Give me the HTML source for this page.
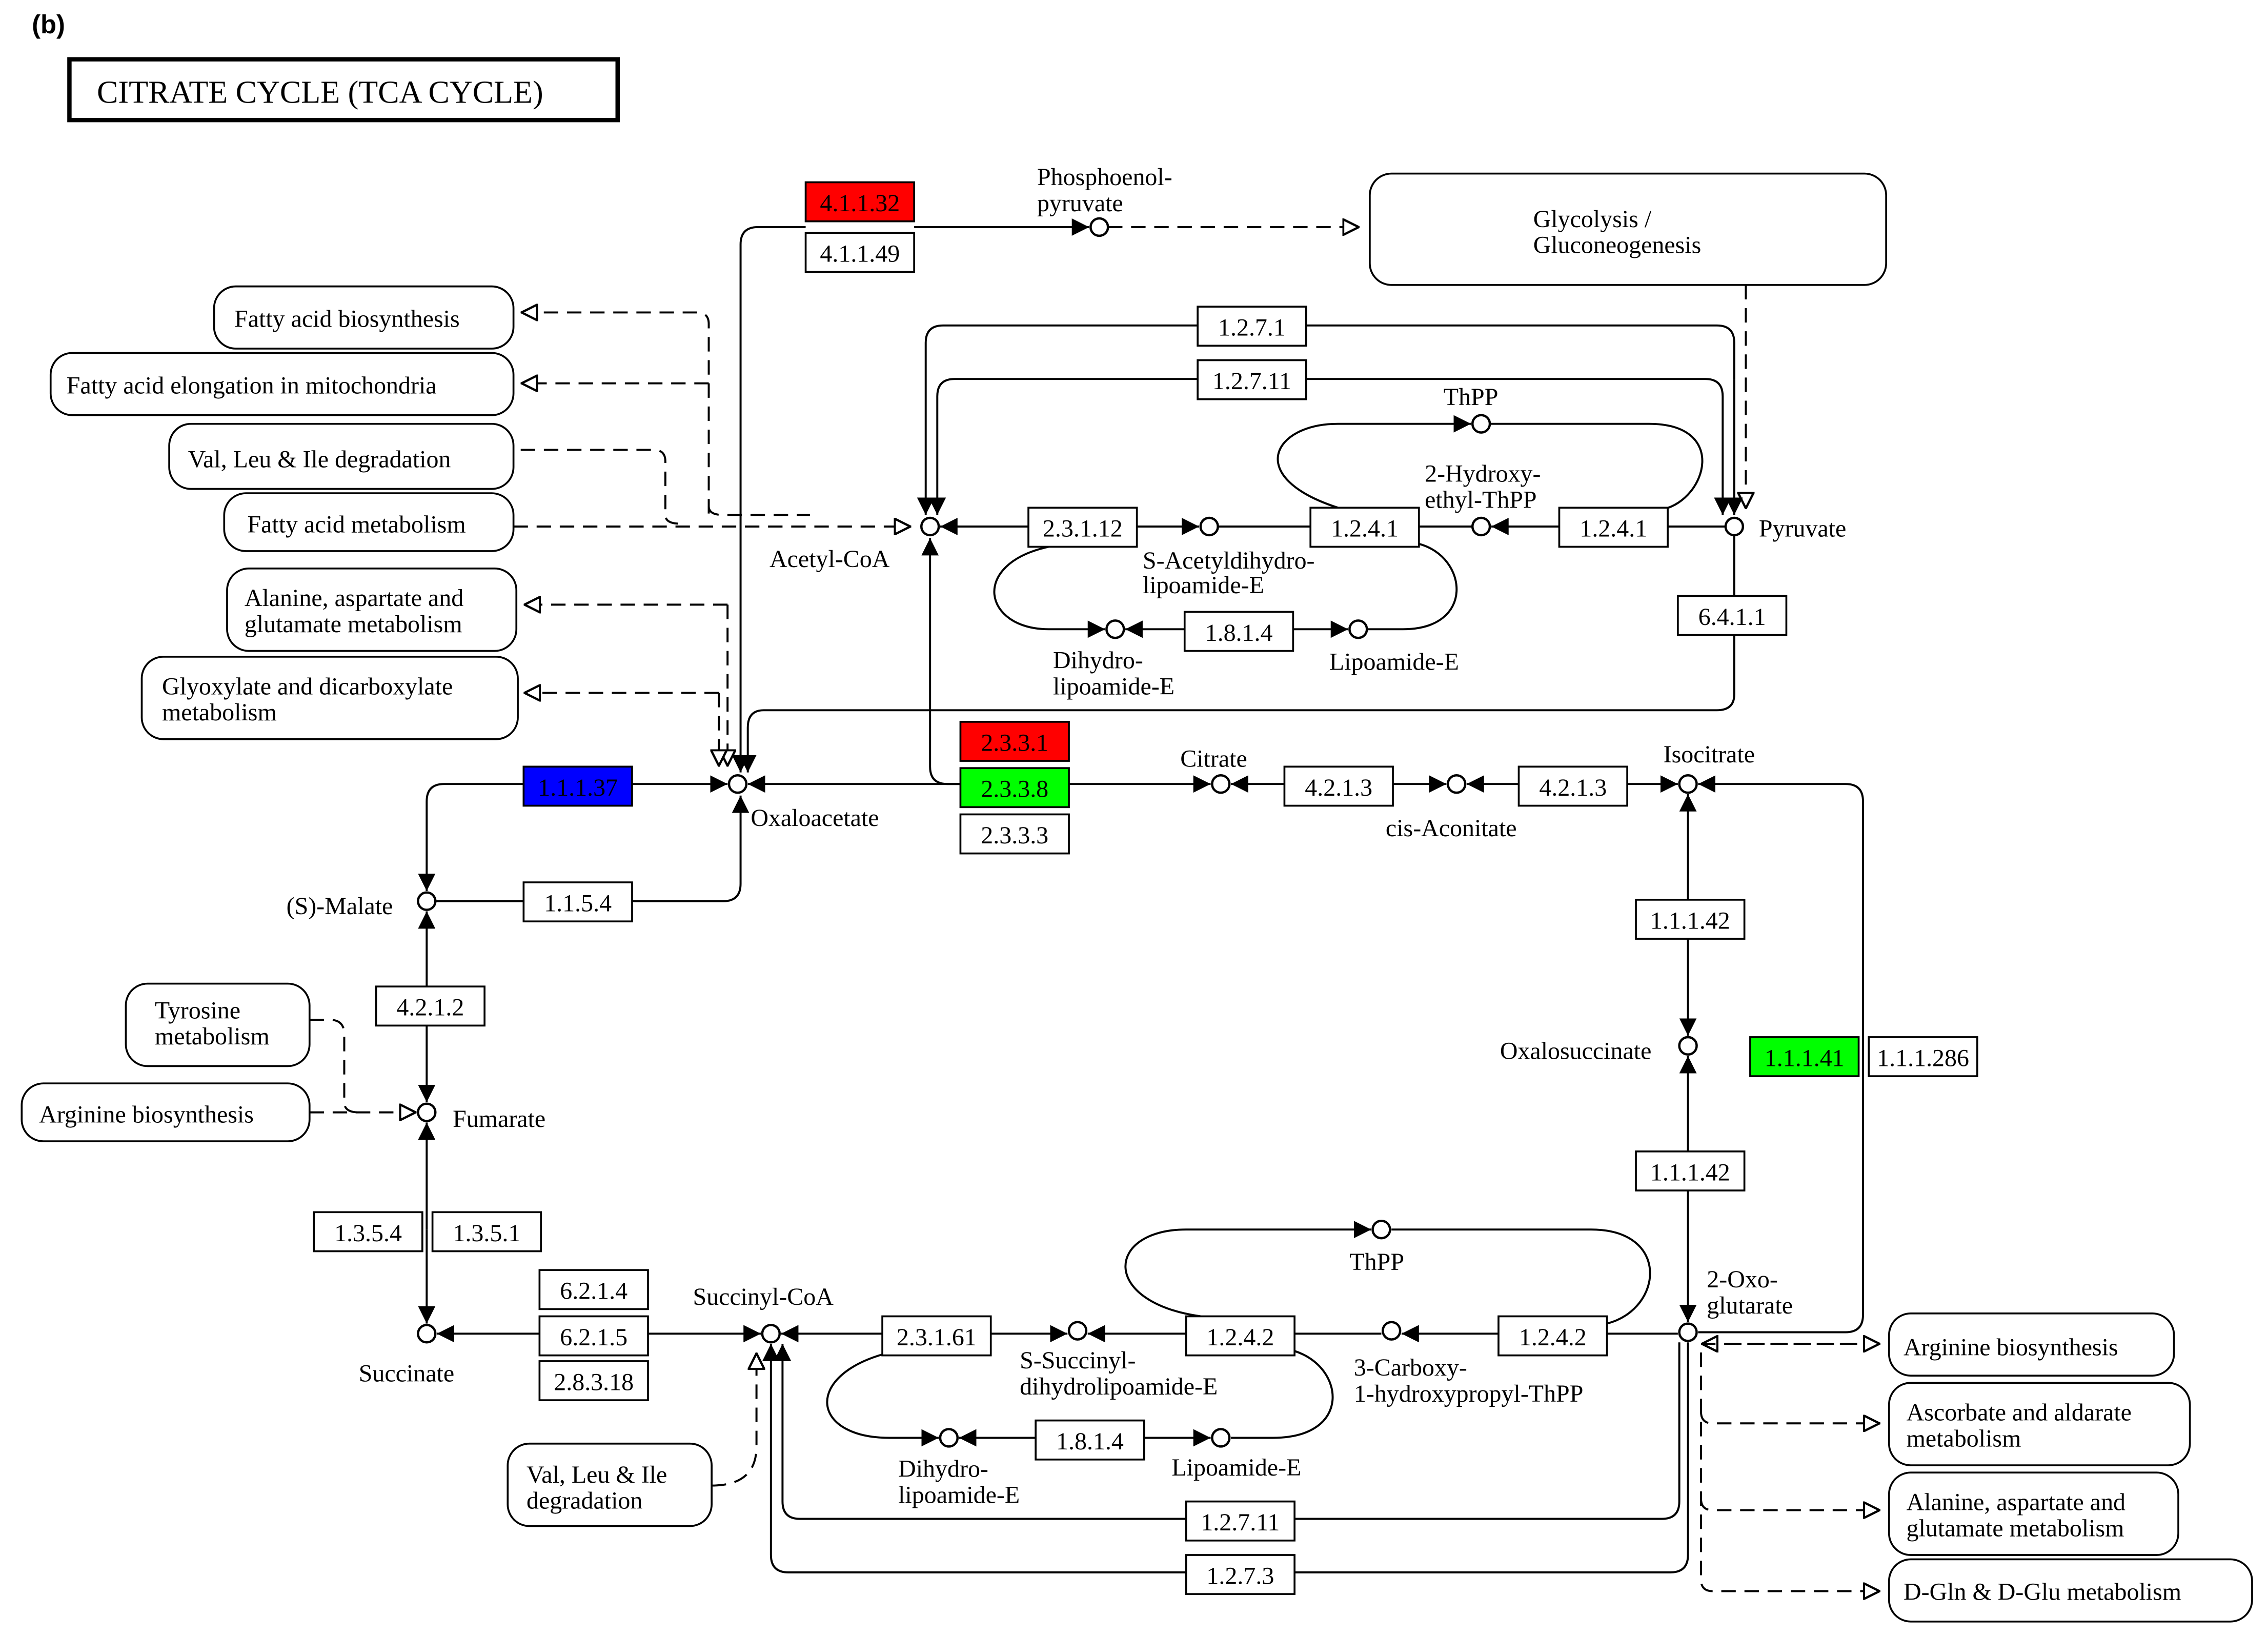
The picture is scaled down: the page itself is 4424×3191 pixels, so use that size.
<!DOCTYPE html>
<html><head><meta charset="utf-8">
<style>
html,body{margin:0;padding:0;background:#fff;width:4424px;height:3191px;overflow:hidden}
svg{display:block}
text{font-family:"Liberation Serif",serif;font-size:17px;fill:#000}
.b{fill:#fff;stroke:#000;stroke-width:1.3}
.m{fill:#fff;stroke:#000;stroke-width:1.3}
.l{fill:none;stroke:#000;stroke-width:1.4}
.d{fill:none;stroke:#000;stroke-width:1.4;stroke-dasharray:10,6}
.c{fill:#fff;stroke:#000;stroke-width:1.6}
</style></head><body>
<svg width="4424" height="3191" viewBox="0 0 1568 1131" preserveAspectRatio="none" xmlns="http://www.w3.org/2000/svg">
<defs>
<marker id="a" viewBox="0 0 10 10" refX="10" refY="5" markerWidth="12" markerHeight="12" markerUnits="userSpaceOnUse" orient="auto"><path d="M0,0 L10,5 L0,10 z" fill="#000"/></marker>
<marker id="h" viewBox="0 0 10 10" refX="10" refY="5" markerWidth="12" markerHeight="12" markerUnits="userSpaceOnUse" orient="auto"><path d="M0.5,0.5 L9.5,5 L0.5,9.5 z" fill="#fff" stroke="#000" stroke-width="1.3"/></marker>
</defs>
<rect width="1568" height="1131" fill="#fff"/>
<text x="22" y="23" style="font-family:'Liberation Sans',sans-serif;font-weight:bold;font-size:18px">(b)</text>
<rect x="48" y="41" width="379" height="42" fill="#fff" stroke="#000" stroke-width="3"/>
<text x="67" y="71" style="font-size:22px">CITRATE  CYCLE  (TCA CYCLE)</text>

<g>
<rect class="m" x="947" y="120" width="357" height="77" rx="15"/>
<rect class="m" x="148" y="198" width="207" height="43" rx="15"/>
<rect class="m" x="35" y="244" width="320" height="43" rx="15"/>
<rect class="m" x="117" y="293" width="238" height="45" rx="15"/>
<rect class="m" x="155" y="341" width="200" height="40" rx="15"/>
<rect class="m" x="157" y="393" width="200" height="57" rx="15"/>
<rect class="m" x="98" y="454" width="260" height="57" rx="15"/>
<rect class="m" x="87" y="680" width="127" height="57" rx="15"/>
<rect class="m" x="15" y="749" width="199" height="40" rx="15"/>
<rect class="m" x="351" y="998" width="141" height="57" rx="15"/>
<rect class="m" x="1306" y="908" width="197" height="43" rx="15"/>
<rect class="m" x="1306" y="956" width="208" height="57" rx="15"/>
<rect class="m" x="1306" y="1018" width="200" height="57" rx="15"/>
<rect class="m" x="1306" y="1078" width="251" height="43" rx="15"/>
</g>
<text x="1060" y="157">Glycolysis /</text><text x="1060" y="175">Gluconeogenesis</text>
<text x="162" y="226">Fatty acid biosynthesis</text>
<text x="46" y="272">Fatty acid elongation in mitochondria</text>
<text x="130" y="323">Val, Leu &amp; Ile degradation</text>
<text x="171" y="368">Fatty acid metabolism</text>
<text x="169" y="419">Alanine, aspartate and</text><text x="169" y="437">glutamate metabolism</text>
<text x="112" y="480">Glyoxylate and dicarboxylate</text><text x="112" y="498">metabolism</text>
<text x="107" y="704">Tyrosine</text><text x="107" y="722">metabolism</text>
<text x="27" y="776">Arginine biosynthesis</text>
<text x="364" y="1025">Val, Leu &amp; Ile</text><text x="364" y="1043">degradation</text>
<text x="1316" y="937">Arginine biosynthesis</text>
<text x="1318" y="982">Ascorbate and aldarate</text><text x="1318" y="1000">metabolism</text>
<text x="1318" y="1044">Alanine, aspartate and</text><text x="1318" y="1062">glutamate metabolism</text>
<text x="1316" y="1106">D-Gln &amp; D-Glu metabolism</text>

<path class="d" d="M766,157 H940" marker-end="url(#h)"/>
<path class="d" d="M1207,197 V352" marker-end="url(#h)"/>
<path class="d" d="M490,355 V224 Q490,216 482,216 H360" marker-end="url(#h)"/>
<path class="d" d="M490,265 H360" marker-end="url(#h)"/>
<path class="d" d="M490,350 Q490,356 500,356 H560"/>
<path class="d" d="M360,311 H452 Q460,311 460,319 V356 Q460,362 470,362"/>
<path class="d" d="M355,364 H630" marker-end="url(#h)"/>
<path class="d" d="M503,418 H362" marker-end="url(#h)"/>
<path class="d" d="M503,418 V530" marker-end="url(#h)"/>
<path class="d" d="M497,479 H362" marker-end="url(#h)"/>
<path class="d" d="M497,479 V530" marker-end="url(#h)"/>
<path class="d" d="M214,705 H228 Q238,705 238,715 V762 Q238,769 248,769"/>
<path class="d" d="M214,769 H288" marker-end="url(#h)"/>
<path class="d" d="M492,1027 Q523,1027 523,1000 V935" marker-end="url(#h)"/>
<path class="d" d="M1300,929 H1176" marker-end="url(#h)"/>
<path class="d" d="M1176,929 H1300" marker-end="url(#h)"/>
<path class="d" d="M1176,935 V1092 Q1176,1100 1184,1100 H1300" marker-end="url(#h)"/>
<path class="d" d="M1176,976 Q1176,984 1184,984 H1300" marker-end="url(#h)"/>
<path class="d" d="M1176,1036 Q1176,1044 1184,1044 H1300" marker-end="url(#h)"/>

<path class="l" d="M632,157 H753" marker-end="url(#a)"/>
<path class="l" d="M557,157 H524 Q512,157 512,169 V534" marker-end="url(#a)"/>
<path class="l" d="M1199,262 V356" marker-end="url(#a)"/>
<path class="l" d="M903,225 H1187 Q1199,225 1199,237 V262"/>
<path class="l" d="M828,225 H652 Q640,225 640,237 V356" marker-end="url(#a)"/>
<path class="l" d="M903,262 H1179 Q1191,262 1191,274 V356" marker-end="url(#a)"/>
<path class="l" d="M828,262 H660 Q648,262 648,274 V356" marker-end="url(#a)"/>
<path class="l" d="M711,364 H650" marker-end="url(#a)"/>
<path class="l" d="M786,364 H829" marker-end="url(#a)"/>
<path class="l" d="M842,364 H906"/>
<path class="l" d="M981,364 H1018"/>
<path class="l" d="M1078,364 H1031" marker-end="url(#a)"/>
<path class="l" d="M1153,364 H1193"/>
<path class="l" d="M925,351 C860,330 880,293 925,293 H1017" marker-end="url(#a)"/>
<path class="l" d="M1030,293 H1140 C1195,293 1180,345 1150,352"/>
<path class="l" d="M725,378 C670,390 680,435 725,435 H764" marker-end="url(#a)"/>
<path class="l" d="M819,435 H778" marker-end="url(#a)"/>
<path class="l" d="M894,435 H932" marker-end="url(#a)"/>
<path class="l" d="M945,435 H970 C1020,435 1015,385 981,376"/>
<path class="l" d="M1199,370 V412"/>
<path class="l" d="M1199,439 V480 Q1199,491 1187,491 H528 Q517,491 517,503 V534" marker-end="url(#a)"/>
<path class="l" d="M664,542 H655 Q643,542 643,530 V372" marker-end="url(#a)"/>
<path class="l" d="M437,542 H503" marker-end="url(#a)"/>
<path class="l" d="M362,542 H307 Q295,542 295,554 V616" marker-end="url(#a)"/>
<path class="l" d="M664,542 H517" marker-end="url(#a)"/>
<path class="l" d="M739,542 H837" marker-end="url(#a)"/>
<path class="l" d="M888,542 H851" marker-end="url(#a)"/>
<path class="l" d="M963,542 H1000" marker-end="url(#a)"/>
<path class="l" d="M1050,542 H1014" marker-end="url(#a)"/>
<path class="l" d="M1125,542 H1160" marker-end="url(#a)"/>
<path class="l" d="M1288,900 V554 Q1288,542 1276,542 H1174" marker-end="url(#a)"/>
<path class="l" d="M1288,895 V909 Q1288,921 1276,921 H1174"/>
<path class="l" d="M301,623 H362"/>
<path class="l" d="M437,623 H500 Q512,623 512,611 V550" marker-end="url(#a)"/>
<path class="l" d="M295,682 V630" marker-end="url(#a)"/>
<path class="l" d="M295,709 V762" marker-end="url(#a)"/>
<path class="l" d="M295,850 V776" marker-end="url(#a)"/>
<path class="l" d="M295,850 V915" marker-end="url(#a)"/>
<path class="l" d="M1167,622 V549" marker-end="url(#a)"/>
<path class="l" d="M1167,649 V716" marker-end="url(#a)"/>
<path class="l" d="M1167,796 V730" marker-end="url(#a)"/>
<path class="l" d="M1167,823 V914" marker-end="url(#a)"/>
<path class="l" d="M373,922 H302" marker-end="url(#a)"/>
<path class="l" d="M448,922 H526" marker-end="url(#a)"/>
<path class="l" d="M610,922 H540" marker-end="url(#a)"/>
<path class="l" d="M685,922 H738" marker-end="url(#a)"/>
<path class="l" d="M820,922 H752" marker-end="url(#a)"/>
<path class="l" d="M895,922 H955"/>
<path class="l" d="M1036,922 H969" marker-end="url(#a)"/>
<path class="l" d="M1111,922 H1160"/>
<path class="l" d="M830,910 C760,900 765,850 820,850 H948" marker-end="url(#a)"/>
<path class="l" d="M962,850 H1100 C1155,850 1150,905 1111,915"/>
<path class="l" d="M615,935 C555,950 560,994 615,994 H649" marker-end="url(#a)"/>
<path class="l" d="M716,994 H663" marker-end="url(#a)"/>
<path class="l" d="M791,994 H837" marker-end="url(#a)"/>
<path class="l" d="M851,994 H880 C935,994 930,945 895,934"/>
<path class="l" d="M1161,928 V1038 Q1161,1050 1149,1050 H895"/>
<path class="l" d="M820,1050 H553 Q541,1050 541,1038 V929" marker-end="url(#a)"/>
<path class="l" d="M1167,928 V1075 Q1167,1087 1155,1087 H895"/>
<path class="l" d="M820,1087 H545 Q533,1087 533,1075 V929" marker-end="url(#a)"/>

<g>
<rect x="557" y="126" width="75" height="27" fill="#ff0000" stroke="#000" stroke-width="1.3"/>
<rect class="b" x="557" y="161" width="75" height="27"/>
<rect class="b" x="828" y="212" width="75" height="27"/>
<rect class="b" x="828" y="249" width="75" height="27"/>
<rect class="b" x="711" y="351" width="75" height="27"/>
<rect class="b" x="906" y="351" width="75" height="27"/>
<rect class="b" x="1078" y="351" width="75" height="27"/>
<rect class="b" x="819" y="423" width="75" height="27"/>
<rect class="b" x="1160" y="412" width="75" height="27"/>
<rect x="664" y="499" width="75" height="27" fill="#ff0000" stroke="#000" stroke-width="1.3"/>
<rect x="664" y="531" width="75" height="27" fill="#00ff00" stroke="#000" stroke-width="1.3"/>
<rect class="b" x="664" y="563" width="75" height="27"/>
<rect x="362" y="530" width="75" height="27" fill="#0000ff" stroke="#000" stroke-width="1.3"/>
<rect class="b" x="888" y="530" width="75" height="27"/>
<rect class="b" x="1050" y="530" width="75" height="27"/>
<rect class="b" x="362" y="610" width="75" height="27"/>
<rect class="b" x="260" y="682" width="75" height="27"/>
<rect class="b" x="1131" y="622" width="75" height="27"/>
<rect x="1210" y="717" width="75" height="27" fill="#00ff00" stroke="#000" stroke-width="1.3"/>
<rect class="b" x="1292" y="717" width="75" height="27"/>
<rect class="b" x="1131" y="796" width="75" height="27"/>
<rect class="b" x="217" y="838" width="75" height="27"/>
<rect class="b" x="299" y="838" width="75" height="27"/>
<rect class="b" x="373" y="878" width="75" height="27"/>
<rect class="b" x="373" y="910" width="75" height="27"/>
<rect class="b" x="373" y="941" width="75" height="27"/>
<rect class="b" x="610" y="910" width="75" height="27"/>
<rect class="b" x="820" y="910" width="75" height="27"/>
<rect class="b" x="1036" y="910" width="75" height="27"/>
<rect class="b" x="716" y="982" width="75" height="27"/>
<rect class="b" x="820" y="1038" width="75" height="27"/>
<rect class="b" x="820" y="1075" width="75" height="27"/>
</g>
<g text-anchor="middle">
<text x="594.5" y="146">4.1.1.32</text>
<text x="594.5" y="181">4.1.1.49</text>
<text x="865.5" y="232">1.2.7.1</text>
<text x="865.5" y="269">1.2.7.11</text>
<text x="748.5" y="371">2.3.1.12</text>
<text x="943.5" y="371">1.2.4.1</text>
<text x="1115.5" y="371">1.2.4.1</text>
<text x="856.5" y="443">1.8.1.4</text>
<text x="1197.5" y="432">6.4.1.1</text>
<text x="701.5" y="519">2.3.3.1</text>
<text x="701.5" y="551">2.3.3.8</text>
<text x="701.5" y="583">2.3.3.3</text>
<text x="399.5" y="550">1.1.1.37</text>
<text x="925.5" y="550">4.2.1.3</text>
<text x="1087.5" y="550">4.2.1.3</text>
<text x="399.5" y="630">1.1.5.4</text>
<text x="297.5" y="702">4.2.1.2</text>
<text x="1168.5" y="642">1.1.1.42</text>
<text x="1247.5" y="737">1.1.1.41</text>
<text x="1329.5" y="737">1.1.1.286</text>
<text x="1168.5" y="816">1.1.1.42</text>
<text x="254.5" y="858">1.3.5.4</text>
<text x="336.5" y="858">1.3.5.1</text>
<text x="410.5" y="898">6.2.1.4</text>
<text x="410.5" y="930">6.2.1.5</text>
<text x="410.5" y="961">2.8.3.18</text>
<text x="647.5" y="930">2.3.1.61</text>
<text x="857.5" y="930">1.2.4.2</text>
<text x="1073.5" y="930">1.2.4.2</text>
<text x="753.5" y="1002">1.8.1.4</text>
<text x="857.5" y="1058">1.2.7.11</text>
<text x="857.5" y="1095">1.2.7.3</text>
</g>

<g>
<circle class="c" cx="760" cy="157" r="6"/>
<circle class="c" cx="643" cy="364" r="6"/>
<circle class="c" cx="836" cy="364" r="6"/>
<circle class="c" cx="1024" cy="364" r="6"/>
<circle class="c" cx="1199" cy="364" r="6"/>
<circle class="c" cx="1024" cy="293" r="6"/>
<circle class="c" cx="771" cy="435" r="6"/>
<circle class="c" cx="939" cy="435" r="6"/>
<circle class="c" cx="510" cy="542" r="6"/>
<circle class="c" cx="844" cy="542" r="6"/>
<circle class="c" cx="1007" cy="542" r="6"/>
<circle class="c" cx="1167" cy="542" r="6"/>
<circle class="c" cx="295" cy="623" r="6"/>
<circle class="c" cx="295" cy="769" r="6"/>
<circle class="c" cx="1167" cy="723" r="6"/>
<circle class="c" cx="1167" cy="921" r="6"/>
<circle class="c" cx="295" cy="922" r="6"/>
<circle class="c" cx="533" cy="922" r="6"/>
<circle class="c" cx="745" cy="920" r="6"/>
<circle class="c" cx="962" cy="920" r="6"/>
<circle class="c" cx="955" cy="850" r="6"/>
<circle class="c" cx="656" cy="994" r="6"/>
<circle class="c" cx="844" cy="994" r="6"/>
</g>
<text x="717" y="128">Phosphoenol-</text><text x="717" y="146">pyruvate</text>
<text x="998" y="280">ThPP</text>
<text x="985" y="333">2-Hydroxy-</text><text x="985" y="351">ethyl-ThPP</text>
<text x="1216" y="371">Pyruvate</text>
<text x="532" y="392">Acetyl-CoA</text>
<text x="790" y="393">S-Acetyldihydro-</text><text x="790" y="410">lipoamide-E</text>
<text x="728" y="462">Dihydro-</text><text x="728" y="480">lipoamide-E</text>
<text x="919" y="463">Lipoamide-E</text>
<text x="816" y="530">Citrate</text>
<text x="1150" y="527">Isocitrate</text>
<text x="958" y="578">cis-Aconitate</text>
<text x="519" y="571">Oxaloacetate</text>
<text x="198" y="632">(S)-Malate</text>
<text x="313" y="779">Fumarate</text>
<text x="1037" y="732">Oxalosuccinate</text>
<text x="1180" y="890">2-Oxo-</text><text x="1180" y="908">glutarate</text>
<text x="479" y="902">Succinyl-CoA</text>
<text x="248" y="955">Succinate</text>
<text x="705" y="946">S-Succinyl-</text><text x="705" y="964">dihydrolipoamide-E</text>
<text x="933" y="878">ThPP</text>
<text x="936" y="951">3-Carboxy-</text><text x="936" y="969">1-hydroxypropyl-ThPP</text>
<text x="621" y="1021">Dihydro-</text><text x="621" y="1039">lipoamide-E</text>
<text x="810" y="1020">Lipoamide-E</text>
</svg>
</body></html>
